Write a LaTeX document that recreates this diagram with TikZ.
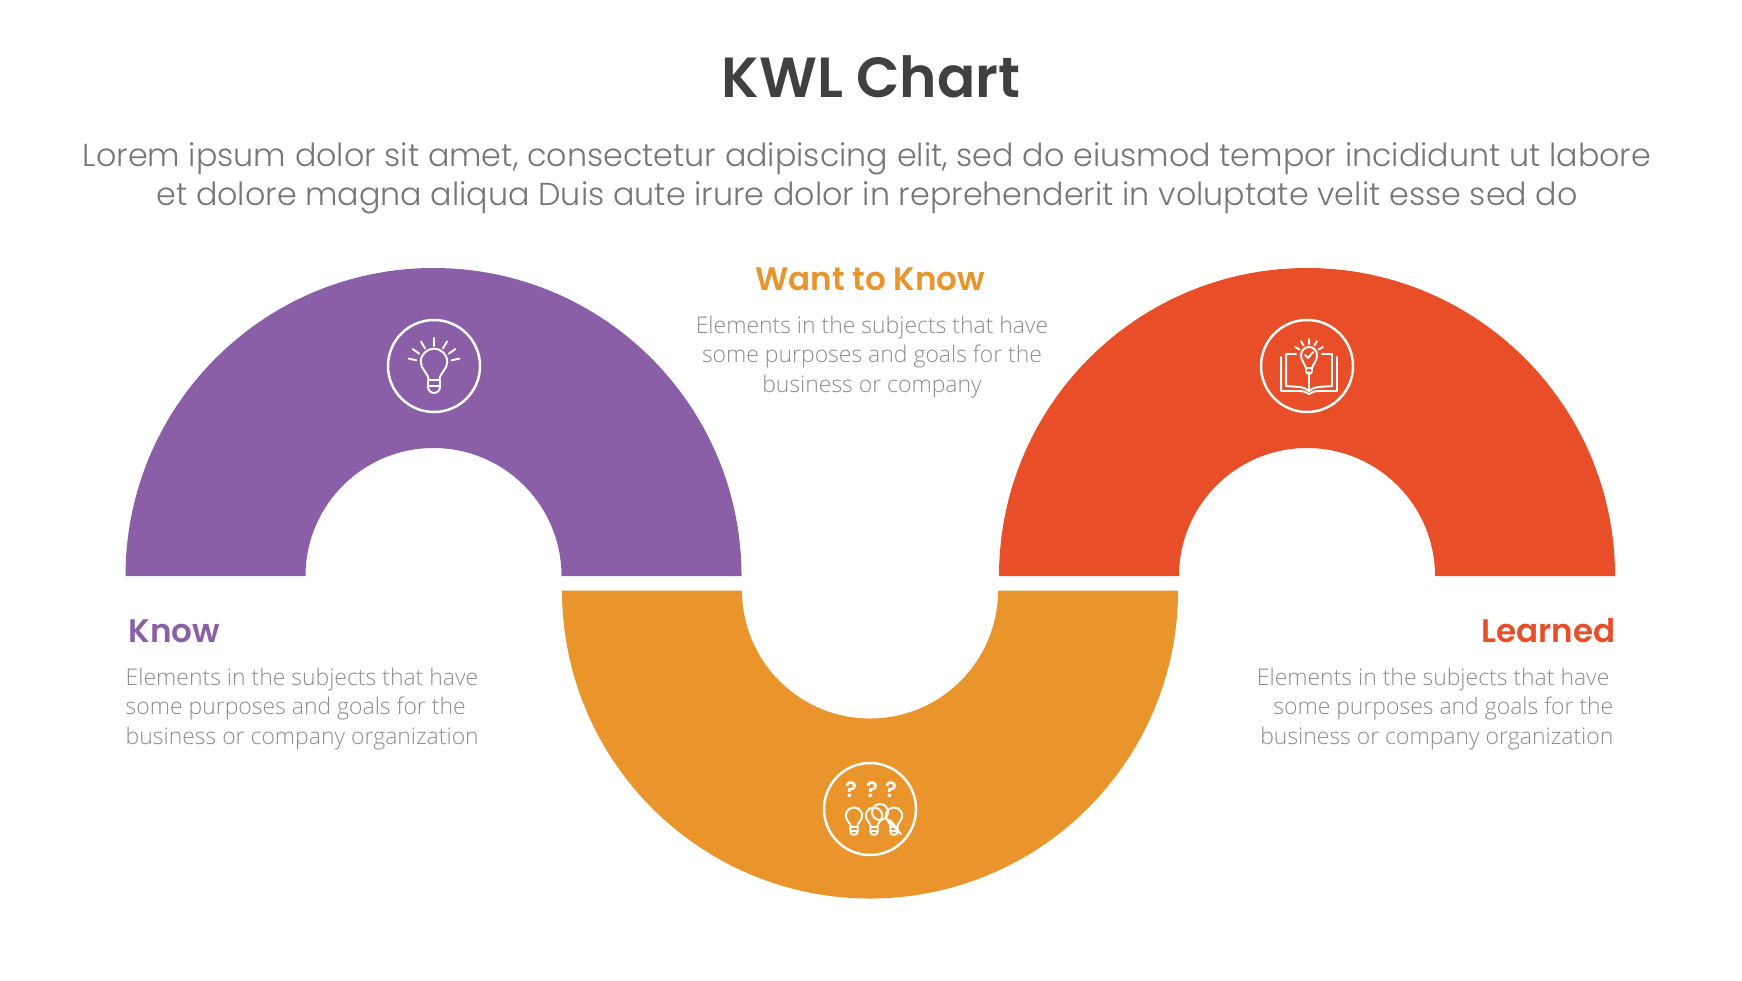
\documentclass[tikz,border=0pt]{standalone}
\usepackage{fontspec}
\setmainfont{Poppins}
\newfontfamily\poplight{Poppins Light}
\newfontfamily\popsemi{Poppins SemiBold}
\newfontfamily\openlight{Open Sans Light}
\definecolor{knowpurple}{RGB}{139,95,168}
\definecolor{wantorange}{RGB}{233,149,44}
\definecolor{learnedred}{RGB}{232,78,39}
\definecolor{titlegrey}{RGB}{64,64,64}
\definecolor{subgrey}{RGB}{118,118,118}
\definecolor{bodygrey}{RGB}{140,140,140}
\tikzset{
	bulbpic/.pic={
		\draw (-5,-16) .. controls (-6,-9) and (-13.3,-5) .. (-13.3,2) arc (180:0:13.3) .. controls (13.3,-5) and (6,-9) .. (5,-16) -- cycle;
		\draw (-6,-16) -- (-6,-23) arc (180:360:6) -- (6,-16);
		\draw (-6,-22) -- (6,-22);
	},
	title/.style={font=\popsemi\fontsize{16.1}{19}\selectfont,text=titlegrey},
	sub/.style={font=\poplight\fontsize{9.03}{11.05}\selectfont,text=subgrey,align=center},
	head/.style={font=\popsemi\fontsize{9.27}{11}\selectfont},
	body/.style={font=\openlight\fontsize{6.53}{8.46}\selectfont,text=bodygrey},
	badge/.style={circle,draw=white,line width=0.7pt,minimum size=0.92cm,inner sep=0pt},
	icon/.style={draw=white,line width=0.55pt,line cap=round,line join=round},
	qmark/.style={font=\popsemi\fontsize{6.2}{7}\selectfont,text=white}
}
\begin{document}
\begin{tikzpicture}
	\useasboundingbox (0,0) rectangle (17.42,9.8);
	% bands
	\fill[knowpurple] (1.255,4.04) arc (180:0:3.08) -- (5.615,4.04) arc (0:180:1.28) -- cycle;
	\fill[wantorange] (5.62,3.895) arc (180:360:3.08) -- (9.98,3.895) arc (360:180:1.28) -- cycle;
	\fill[learnedred] (9.99,4.04) arc (180:0:3.08) -- (14.35,4.04) arc (0:180:1.28) -- cycle;
	% texts
	\node[title] (chart) at (8.71,9.03) {KWL Chart};
	\node[sub] (intro) at (8.67,8.02) {Lorem ipsum dolor sit amet, consectetur adipiscing elit, sed do eiusmod tempor incididunt ut labore\\et dolore magna aliqua Duis aute irure dolor in reprehenderit in voluptate velit esse sed do};
	\node[head,text=knowpurple,anchor=west,inner sep=0pt] (know) at (1.28,3.49) {Know};
	\node[body,anchor=north west,align=left,inner sep=0pt] (knowtext) at (1.25,3.13) {Elements in the subjects that have\\some purposes and goals for the\\business or company organization};
	\node[head,text=wantorange] (want) at (8.70,7.01) {Want to Know};
	\node[body,anchor=north,align=center,inner sep=0pt] (wanttext) at (8.72,6.65) {Elements in the subjects that have\\some purposes and goals for the\\business or company};
	\node[head,text=learnedred,anchor=east,inner sep=0pt] (learned) at (16.16,3.49) {Learned};
	\node[body,anchor=north east,align=right,inner sep=0pt] (learnedtext) at (16.14,3.13) {Elements in the subjects that have\hspace*{0.04cm}\\some purposes and goals for the\\business or company organization};
	% badges
	\node[badge] (knowbadge) at (4.34,6.14) {};
	\node[badge] (wantbadge) at (8.70,1.71) {};
	\node[badge] (learnedbadge) at (13.07,6.14) {};
	% bulb icon
	\begin{scope}[shift={(knowbadge.center)},scale=0.01,icon]
		\pic[transform shape] at (0,2) {bulbpic};
		\foreach \a in {12,35,60,90,120,145,168}
			\draw (0,2) ++(\a:18) -- ++(\a:8);
	\end{scope}
	% book icon
	\begin{scope}[shift={(learnedbadge.center)},scale=0.01,icon]
		\draw (-26,9) -- (-26,-25) -- (-8,-25) .. controls (-4,-25) .. (2,-28) .. controls (8,-25) .. (12,-25) -- (30,-25) -- (30,9);
		\draw (-11,12) .. controls (-15,12) .. (-21,12) -- (-21,-20) .. controls (-12,-21) and (-3,-20) .. (2,-25) .. controls (7,-20) and (16,-21) .. (25,-20) -- (25,12) .. controls (21,12) .. (15,12);
		\draw (2,-6) -- (2,-25);
		\draw (-1,-2) .. controls (-2,2) and (-6,5) .. (-6,11) arc (180:0:8) .. controls (10,5) and (6,2) .. (5,-2) -- cycle;
		\draw (-1,-2) -- (-1,-5) arc (180:360:3) -- (5,-2);
		\draw (-2,11) -- (1,8) -- (6,14);
		\foreach \a in {30,60,90,120,150}
			\draw (2,11) ++(\a:11) -- ++(\a:5);
	\end{scope}
	% questions icon
	\begin{scope}[shift={(wantbadge.center)},scale=0.01,icon]
		\pic[transform shape,scale=0.62] at (-16,-8) {bulbpic};
		\pic[transform shape,scale=0.62] at (4,-8) {bulbpic};
		\pic[transform shape,scale=0.62] at (24,-8) {bulbpic};
		\draw (10,-3) circle (8);
		\draw (16,-9) -- (31,-25);
		\draw (20,-11) -- (26,-18);
	\end{scope}
	\node[qmark] (qone) at (8.51,1.90) {?};
	\node[qmark] (qtwo) at (8.72,1.90) {?};
	\node[qmark] (qthree) at (8.91,1.90) {?};
\end{tikzpicture}
\end{document}
